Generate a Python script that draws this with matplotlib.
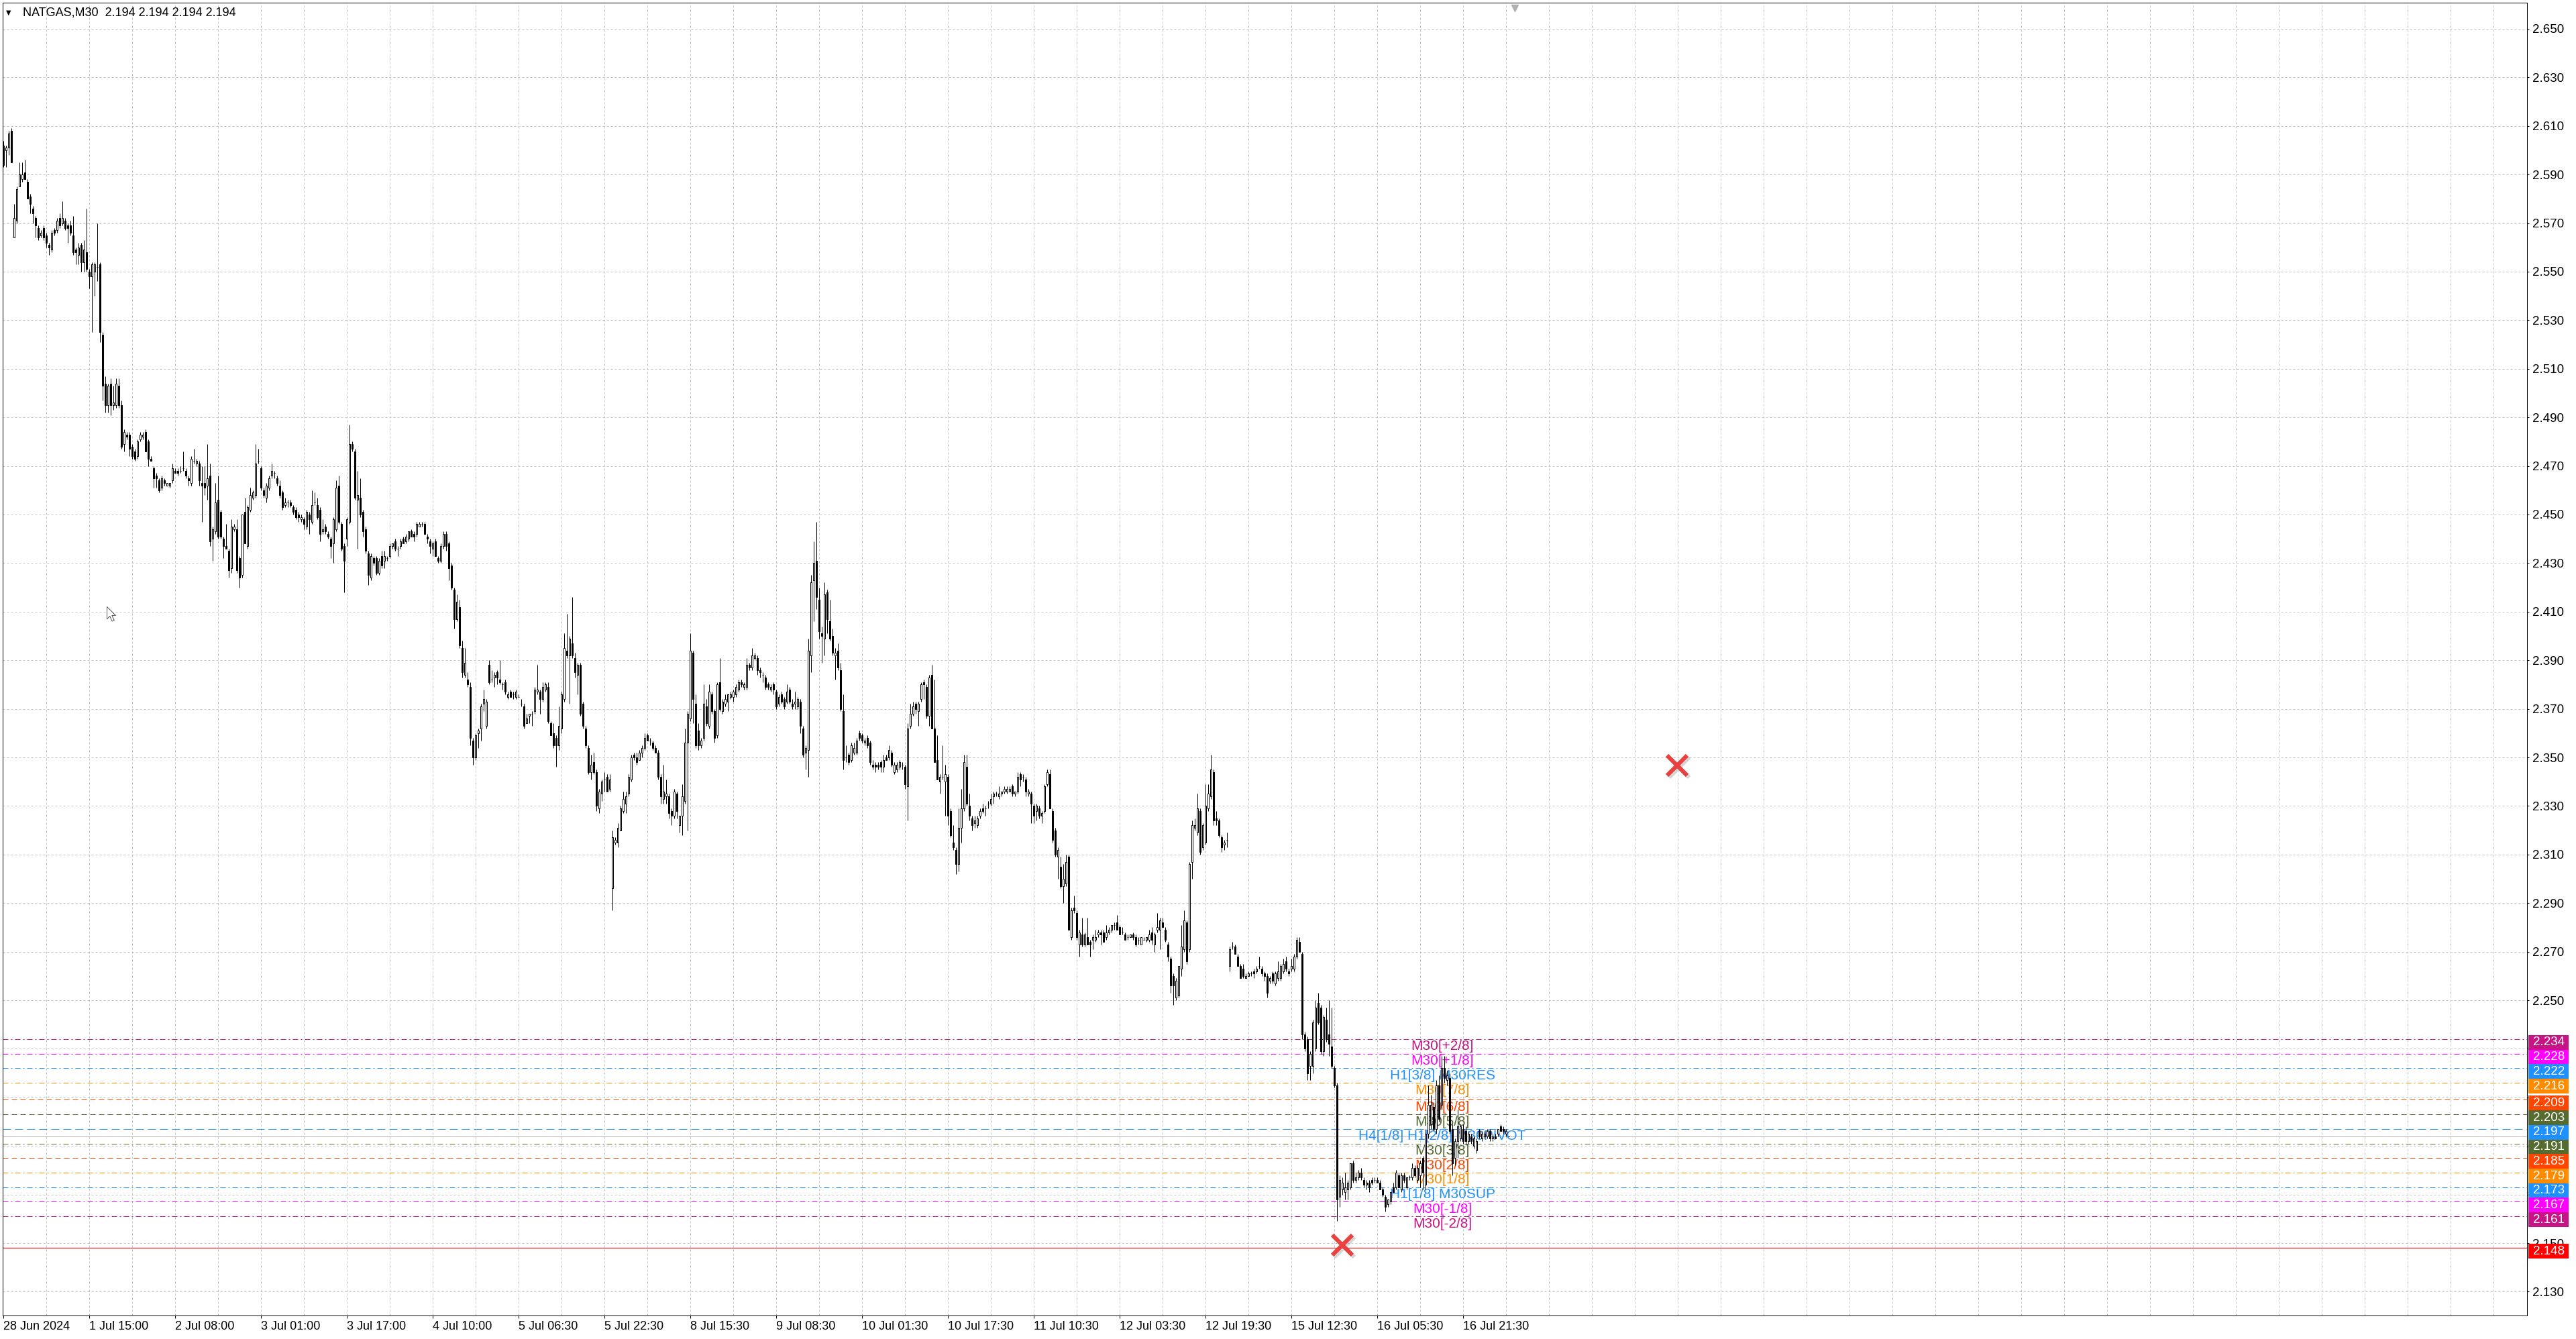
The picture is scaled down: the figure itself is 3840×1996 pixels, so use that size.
import numpy as np
import matplotlib
matplotlib.use("Agg")
import matplotlib.pyplot as plt
import matplotlib.transforms as mtransforms
from matplotlib.patches import Rectangle
from matplotlib.path import Path

plt.rcParams['font.family'] = ['Liberation Sans', 'DejaVu Sans']

# header of the chart
symbol = "NATGAS,M30"
last_quote = [2.194, 2.194, 2.194, 2.194]

# M30 bars, prices in thousandths
opens = [
    2602,2600,2601,2608,2564,2571,2585,2588,2591,2587,2581,2576,2572,2568,2565,2568,2565,2561,2559,2567,
    2567,2572,2570,2571,2569,2569,2565,2559,2557,2561,2554,2558,2550,2548,2550,2552,2553,2524,2504,2495,
    2504,2495,2495,2503,2495,2479,2483,2483,2478,2476,2474,2481,2482,2484,2480,2473,2469,2466,2464,2461,
    2464,2462,2462,2464,2468,2468,2468,2469,2468,2465,2463,2472,2471,2471,2463,2463,2462,2466,2440,2443,
    2456,2451,2440,2437,2435,2428,2444,2444,2432,2425,2451,2437,2452,2457,2458,2472,2469,2460,2457,2461,
    2466,2467,2465,2462,2459,2454,2455,2455,2453,2452,2450,2448,2448,2445,2450,2447,2455,2454,2452,2443,
    2445,2442,2440,2438,2444,2462,2446,2437,2440,2447,2479,2476,2456,2457,2451,2444,2434,2424,2432,2432,
    2426,2433,2431,2432,2433,2437,2439,2436,2437,2440,2439,2440,2443,2442,2442,2445,2446,2446,2441,2439,
    2436,2439,2432,2431,2437,2442,2438,2429,2419,2407,2412,2395,2384,2382,2379,2357,2350,2360,2362,2372,
    2363,2388,2382,2383,2385,2382,2380,2381,2375,2377,2376,2375,2375,2372,2371,2364,2367,2368,2369,2377,
    2377,2374,2378,2379,2364,2360,2358,2355,2362,2374,2394,2392,2397,2391,2384,2388,2372,2362,2354,2344,
    2348,2344,2329,2335,2341,2342,2337,2296,2315,2315,2320,2328,2331,2335,2341,2351,2350,2349,2352,2354,
    2359,2357,2356,2354,2352,2342,2333,2334,2334,2328,2326,2335,2322,2326,2332,2356,2366,2393,2372,2361,
    2355,2358,2371,2363,2376,2369,2359,2381,2369,2372,2373,2375,2375,2376,2378,2381,2379,2379,2388,2387,
    2391,2391,2386,2384,2383,2380,2378,2380,2377,2372,2376,2374,2373,2378,2372,2372,2371,2373,2362,2352,
    2353,2392,2423,2431,2415,2401,2399,2418,2406,2400,2392,2394,2386,2369,2350,2351,2349,2352,2352,2360,
    2359,2356,2358,2356,2347,2347,2347,2348,2346,2350,2350,2352,2344,2345,2346,2347,2346,2338,2363,2368,
    2372,2369,2374,2381,2379,2367,2384,2362,2349,2340,2342,2340,2342,2328,2315,2312,2306,2321,2329,2346,
    2330,2325,2323,2322,2326,2329,2329,2331,2331,2334,2335,2334,2335,2336,2336,2336,2338,2335,2336,2343,
    2342,2341,2335,2335,2330,2328,2329,2326,2328,2339,2343,2328,2320,2309,2305,2297,2298,2309,2276,2288,
    2286,2273,2277,2273,2276,2274,2275,2275,2277,2278,2278,2276,2278,2279,2281,2282,2280,2278,2277,2276,
    2276,2277,2276,2275,2273,2275,2275,2275,2278,2273,2279,2279,2282,2279,2273,2267,2260,2251,2252,2263,
    2271,2282,2271,2307,2321,2319,2328,2313,2315,2329,2334,2344,2325,2324,2317,2314,2316,2264,2272,2272,
    2268,2264,2263,2259,2260,2261,2262,2262,2264,2263,2261,2260,2258,2261,2257,2259,2259,2262,2266,2262,
    2263,2263,2268,2274,2269,2236,2234,2223,2223,2230,2249,2247,2229,2242,2236,2231,2222,2215,2169,2172,
    2171,2172,2173,2183,2176,2177,2179,2176,2174,2175,2176,2176,2176,2175,2172,2169,2166,2167,2173,2173,
    2178,2172,2178,2173,2177,2177,2181,2176,2178,2185,2174,2195,2199,2206,2197,2215,2207,2222,2217,2218,
    2197,2185,2192,2193,2197,2196,2192,2194,2190,2188,2196,2193,2194,2194,2196,2193,2194,2195,2198,2197,
    2195,2194]
highs = [
    2604,2602,2608,2609,2578,2585,2595,2595,2596,2588,2582,2577,2573,2569,2567,2569,2566,2562,2567,2568,
    2572,2574,2579,2572,2570,2571,2573,2560,2562,2562,2563,2576,2551,2554,2554,2570,2554,2525,2507,2504,
    2506,2503,2506,2506,2497,2485,2484,2484,2479,2477,2481,2484,2484,2485,2481,2474,2470,2467,2465,2466,
    2465,2463,2463,2471,2469,2469,2470,2476,2469,2466,2474,2477,2473,2472,2470,2470,2479,2471,2445,2463,
    2466,2452,2441,2446,2436,2448,2446,2448,2433,2450,2457,2454,2461,2460,2479,2477,2470,2461,2463,2466,
    2471,2468,2466,2464,2460,2457,2456,2456,2454,2453,2451,2450,2449,2452,2451,2460,2459,2457,2453,2448,
    2446,2443,2441,2449,2464,2466,2447,2438,2449,2487,2480,2477,2468,2465,2452,2445,2435,2434,2433,2433,
    2432,2435,2435,2433,2438,2438,2440,2437,2440,2441,2442,2443,2444,2443,2447,2447,2447,2447,2442,2440,
    2439,2440,2433,2438,2443,2443,2439,2430,2420,2417,2415,2398,2395,2385,2381,2358,2360,2362,2372,2378,
    2374,2390,2386,2385,2386,2390,2381,2382,2377,2378,2377,2378,2376,2374,2372,2368,2368,2369,2379,2388,
    2378,2381,2381,2381,2365,2364,2359,2371,2377,2401,2409,2400,2416,2393,2389,2389,2373,2363,2355,2351,
    2352,2345,2337,2341,2344,2343,2343,2320,2317,2323,2330,2336,2336,2343,2351,2352,2352,2353,2355,2360,
    2360,2358,2357,2355,2353,2343,2347,2341,2335,2329,2337,2336,2326,2339,2362,2369,2401,2394,2376,2364,
    2358,2380,2374,2380,2377,2370,2381,2391,2374,2376,2376,2377,2378,2380,2382,2382,2381,2391,2389,2395,
    2393,2392,2387,2385,2384,2381,2380,2381,2378,2376,2377,2375,2380,2379,2374,2377,2375,2374,2363,2355,
    2399,2425,2439,2447,2420,2404,2422,2419,2415,2403,2395,2397,2389,2376,2355,2352,2356,2356,2358,2361,
    2360,2358,2359,2357,2349,2348,2348,2349,2351,2351,2355,2353,2348,2348,2349,2348,2347,2364,2372,2373,
    2373,2373,2381,2382,2380,2384,2388,2382,2359,2343,2355,2347,2343,2329,2322,2313,2329,2337,2351,2351,
    2335,2326,2326,2326,2329,2331,2330,2332,2335,2336,2336,2338,2336,2338,2338,2338,2339,2336,2344,2344,
    2343,2342,2337,2336,2331,2331,2330,2328,2339,2345,2345,2329,2321,2313,2309,2306,2310,2310,2288,2293,
    2287,2279,2284,2278,2284,2275,2277,2279,2279,2279,2279,2281,2280,2281,2282,2285,2281,2280,2278,2277,
    2277,2278,2277,2276,2276,2276,2276,2279,2280,2278,2286,2284,2284,2280,2274,2268,2261,2259,2264,2281,
    2287,2283,2307,2324,2325,2335,2329,2323,2339,2339,2351,2345,2328,2325,2318,2316,2319,2272,2274,2273,
    2269,2265,2265,2261,2262,2262,2263,2264,2268,2264,2262,2261,2260,2262,2262,2266,2265,2267,2268,2263,
    2267,2269,2276,2276,2270,2237,2235,2229,2242,2250,2253,2248,2244,2247,2250,2247,2223,2216,2178,2177,
    2179,2176,2183,2184,2179,2180,2181,2177,2176,2176,2177,2177,2177,2176,2173,2170,2168,2171,2175,2180,
    2179,2179,2179,2177,2178,2183,2182,2182,2184,2186,2197,2215,2211,2208,2217,2219,2227,2227,2221,2220,
    2199,2193,2205,2199,2199,2198,2196,2195,2194,2193,2197,2196,2196,2197,2197,2195,2195,2197,2199,2198,
    2197,2194]
lows = [
    2593,2593,2598,2595,2564,2570,2585,2587,2588,2580,2574,2570,2564,2563,2564,2563,2560,2557,2558,2565,
    2566,2568,2569,2567,2562,2565,2557,2553,2553,2550,2550,2550,2543,2525,2540,2546,2521,2497,2492,2492,
    2491,2493,2494,2494,2477,2476,2481,2474,2473,2472,2473,2480,2481,2476,2470,2472,2461,2461,2459,2460,
    2462,2462,2461,2463,2467,2466,2467,2468,2465,2462,2462,2471,2470,2462,2447,2458,2456,2437,2431,2442,
    2440,2440,2432,2436,2424,2426,2443,2426,2420,2424,2438,2436,2451,2456,2457,2471,2460,2457,2455,2460,
    2465,2465,2462,2457,2452,2453,2453,2453,2450,2448,2447,2447,2444,2444,2442,2446,2454,2448,2439,2442,
    2442,2440,2432,2430,2443,2446,2435,2418,2437,2446,2476,2456,2436,2449,2441,2434,2421,2423,2429,2425,
    2425,2428,2428,2431,2432,2436,2435,2433,2436,2438,2438,2439,2441,2439,2441,2445,2445,2442,2438,2434,
    2433,2433,2430,2430,2436,2435,2423,2419,2403,2406,2395,2383,2383,2379,2355,2347,2349,2354,2357,2369,
    2362,2380,2381,2379,2380,2380,2378,2376,2374,2375,2374,2374,2375,2371,2362,2364,2364,2363,2368,2376,
    2368,2373,2377,2364,2359,2354,2346,2353,2360,2373,2391,2372,2391,2383,2376,2367,2362,2354,2343,2341,
    2343,2328,2327,2332,2336,2336,2336,2287,2314,2313,2320,2327,2327,2334,2340,2349,2347,2349,2350,2353,
    2357,2355,2353,2352,2341,2331,2331,2331,2325,2322,2325,2325,2319,2318,2331,2320,2365,2364,2354,2353,
    2354,2357,2363,2362,2368,2356,2358,2369,2368,2371,2369,2374,2373,2375,2377,2379,2378,2378,2386,2386,
    2390,2384,2383,2381,2378,2378,2377,2376,2370,2371,2372,2370,2372,2372,2370,2370,2370,2360,2350,2345,
    2342,2385,2406,2411,2399,2389,2392,2401,2398,2392,2382,2386,2369,2345,2348,2347,2348,2351,2351,2357,
    2356,2355,2354,2347,2345,2344,2345,2344,2344,2349,2349,2346,2343,2344,2345,2345,2337,2324,2362,2367,
    2368,2363,2373,2374,2366,2363,2362,2348,2341,2335,2341,2326,2322,2317,2312,2302,2303,2315,2328,2330,
    2324,2320,2321,2321,2325,2327,2326,2329,2330,2331,2334,2333,2334,2335,2335,2336,2334,2334,2335,2338,
    2340,2334,2334,2323,2323,2324,2325,2323,2327,2338,2329,2315,2309,2300,2296,2290,2297,2279,2275,2286,
    2275,2268,2272,2272,2273,2268,2271,2274,2276,2273,2274,2275,2277,2278,2279,2279,2277,2277,2275,2275,
    2276,2275,2272,2273,2273,2275,2274,2274,2273,2270,2278,2271,2280,2274,2266,2253,2248,2250,2251,2260,
    2270,2265,2270,2300,2320,2318,2310,2312,2314,2328,2333,2322,2322,2317,2311,2312,2313,2262,2271,2269,
    2264,2259,2259,2259,2260,2260,2259,2261,2263,2260,2258,2251,2257,2257,2256,2258,2258,2261,2262,2260,
    2262,2262,2267,2270,2234,2229,2217,2217,2220,2229,2240,2228,2227,2233,2227,2222,2214,2159,2165,2170,
    2168,2168,2172,2175,2175,2176,2176,2173,2172,2171,2174,2175,2175,2172,2169,2163,2165,2166,2171,2172,
    2173,2171,2175,2172,2176,2176,2177,2175,2173,2172,2172,2193,2197,2196,2195,2200,2205,2216,2215,2195,
    2178,2182,2185,2192,2191,2191,2191,2191,2189,2187,2193,2192,2193,2193,2192,2192,2193,2194,2196,2195,
    2194,2194]
closes = [
    2594,2601,2607,2595,2572,2584,2590,2590,2588,2580,2578,2574,2569,2564,2566,2564,2562,2560,2566,2566,
    2571,2569,2572,2568,2568,2566,2558,2558,2560,2554,2559,2551,2548,2553,2553,2552,2525,2503,2495,2503,
    2495,2496,2504,2495,2478,2484,2482,2477,2474,2473,2480,2483,2483,2476,2473,2472,2465,2465,2460,2465,
    2463,2463,2463,2469,2467,2467,2468,2469,2466,2464,2473,2472,2472,2464,2462,2461,2465,2439,2444,2455,
    2441,2441,2437,2436,2427,2445,2445,2427,2424,2450,2438,2453,2458,2459,2471,2472,2461,2458,2462,2465,
    2468,2467,2463,2458,2453,2455,2455,2454,2451,2449,2449,2449,2446,2451,2448,2454,2455,2449,2442,2444,
    2443,2441,2437,2448,2461,2447,2436,2431,2448,2479,2477,2457,2458,2450,2443,2435,2425,2433,2430,2426,
    2431,2429,2433,2432,2437,2438,2436,2436,2439,2438,2441,2443,2441,2441,2446,2446,2446,2442,2440,2437,
    2438,2433,2431,2437,2442,2437,2428,2420,2407,2414,2396,2385,2389,2380,2358,2350,2359,2361,2371,2374,
    2373,2381,2382,2384,2383,2381,2380,2377,2376,2375,2376,2377,2375,2372,2363,2366,2368,2368,2378,2378,
    2374,2379,2380,2365,2359,2355,2355,2363,2376,2395,2392,2399,2392,2385,2388,2368,2363,2355,2344,2347,
    2344,2330,2336,2340,2341,2336,2341,2317,2316,2321,2329,2333,2334,2342,2350,2350,2348,2352,2354,2358,
    2357,2357,2354,2352,2342,2334,2336,2335,2327,2326,2336,2328,2326,2334,2356,2368,2394,2374,2355,2355,
    2357,2372,2364,2377,2369,2358,2380,2370,2373,2374,2376,2376,2377,2379,2381,2380,2380,2388,2387,2392,
    2392,2386,2385,2384,2379,2379,2379,2378,2371,2375,2373,2371,2377,2373,2371,2373,2374,2363,2351,2354,
    2394,2422,2430,2416,2402,2400,2417,2407,2399,2393,2393,2387,2370,2349,2350,2348,2355,2354,2357,2358,
    2357,2357,2355,2348,2346,2346,2346,2346,2349,2349,2353,2347,2347,2347,2348,2347,2339,2362,2368,2371,
    2370,2372,2380,2380,2367,2383,2362,2348,2341,2342,2342,2343,2326,2318,2313,2306,2321,2329,2348,2331,
    2326,2322,2324,2325,2328,2328,2329,2331,2333,2335,2335,2335,2336,2337,2337,2337,2335,2336,2342,2341,
    2342,2336,2336,2331,2326,2330,2326,2327,2338,2344,2329,2316,2310,2312,2297,2300,2307,2279,2287,2287,
    2276,2278,2273,2277,2273,2273,2276,2276,2278,2277,2274,2278,2279,2281,2281,2279,2277,2278,2275,2276,
    2277,2276,2273,2275,2276,2275,2276,2277,2275,2277,2280,2283,2280,2275,2268,2256,2256,2258,2264,2272,
    2283,2266,2306,2322,2322,2329,2311,2322,2330,2335,2345,2324,2324,2318,2313,2315,2316,2271,2272,2269,
    2264,2259,2260,2260,2261,2261,2261,2263,2264,2261,2260,2253,2259,2258,2261,2262,2264,2265,2263,2261,
    2264,2268,2275,2270,2236,2230,2220,2228,2241,2247,2241,2229,2243,2234,2232,2223,2215,2168,2176,2175,
    2173,2175,2183,2176,2177,2179,2177,2174,2175,2173,2175,2176,2175,2172,2170,2165,2168,2171,2171,2179,
    2173,2178,2176,2177,2177,2181,2178,2181,2183,2179,2195,2207,2207,2197,2215,2201,2222,2218,2219,2196,
    2183,2192,2198,2198,2192,2192,2195,2192,2193,2192,2194,2195,2195,2196,2193,2194,2193,2197,2196,2196,
    2196,2194]

# time axis labels, one every 32 bars
time_labels = ["28 Jun 2024", "1 Jul 15:00", "2 Jul 08:00", "3 Jul 01:00", "3 Jul 17:00",
               "4 Jul 10:00", "5 Jul 06:30", "5 Jul 22:30", "8 Jul 15:30", "9 Jul 08:30",
               "10 Jul 01:30", "10 Jul 17:30", "11 Jul 10:30", "12 Jul 03:30", "12 Jul 19:30",
               "15 Jul 12:30", "16 Jul 05:30", "16 Jul 21:30"]
bars_per_label = 32
bars_per_grid = 16

price_ticks = [2.130, 2.150, 2.170, 2.190, 2.210, 2.230, 2.250, 2.270, 2.290, 2.310,
               2.330, 2.350, 2.370, 2.390, 2.410, 2.430, 2.450, 2.470, 2.490, 2.510,
               2.530, 2.550, 2.570, 2.590, 2.610, 2.630, 2.650]
# scale labels that sit fully under the coloured price boxes
hidden_ticks = [2.170, 2.190, 2.210, 2.230]

# murrey math levels
level_prices = [2.234, 2.228, 2.222, 2.216, 2.209, 2.203, 2.197, 2.191, 2.185, 2.179, 2.173, 2.167, 2.161]
level_names = ["M30[+2/8]", "M30[+1/8]", "H1[3/8] M30RES", "M30[7/8]", "M30[6/8]", "M30[5/8]",
               "H4[1/8] H1[2/8] M30PIVOT", "M30[3/8]", "M30[2/8]", "M30[1/8]", "H1[1/8] M30SUP",
               "M30[-1/8]", "M30[-2/8]"]
level_colors = ["#C71585", "#FF00FF", "#1E90FF", "#FF8C00", "#FF4500", "#556B2F", "#1E90FF",
                "#556B2F", "#FF4500", "#FF8C00", "#1E90FF", "#FF00FF", "#C71585"]
level_kind = ["dd", "dd", "dd", "dd", "da", "da", "pv", "dd", "da", "dd", "dd", "dd", "dd"]
label_bar = 536.25

bid_price = 2.194
red_line_price = 2.148

# red cross objects
cross_bars = [499, 623.75]
cross_prices = [2.1492, 2.3467]

cursor_bar, cursor_price = 38.5, 2.4122
shift_bar = 563.25

# ---- layout (pixels of a 3840x1996 canvas) ----
W, H = 3840, 1996
PX = 0.72  # one pixel in points at dpi 100
fig = plt.figure(figsize=(W / 100, H / 100), dpi=100)
fig.patch.set_facecolor("white")
ax = fig.add_axes([4 / W, 1 - 1961 / H, 3763 / W, 1957 / H])
ax.set_facecolor("white")

o = np.array(opens) / 1000
h = np.array(highs) / 1000
l = np.array(lows) / 1000
c = np.array(closes) / 1000
assert len(o) == len(h) == len(l) == len(c), (len(o), len(h), len(l), len(c))
idx = np.arange(len(o))

x_left, x_right = -0.25, 940.5
y_bot, y_top = 2.12017, 2.66077

# grid
grid_col = "#c4c4c4"
vx = np.arange(bars_per_grid, x_right, bars_per_grid)
ax.vlines(vx, y_bot, y_top, colors=grid_col, lw=PX, linestyles=(0, (3, 3)), zorder=1)
ax.hlines(price_ticks, x_left, x_right, colors=grid_col, lw=PX, linestyles=(0, (3, 3)), zorder=1)

# levels
dash_map = {"dd": (8, 4, 2, 4), "da": (8, 5), "pv": (12, 6)}
for p, col, k in zip(level_prices, level_colors, level_kind):
    ax.axhline(p, color=col, lw=PX, dashes=dash_map[k], zorder=2)
for p, name, col in zip(level_prices, level_names, level_colors):
    ax.text(label_bar, p - 0.0004, name, color=col, fontsize=15, ha="center", va="top", zorder=2.5)

ax.axhline(bid_price, color="#c0c0c0", lw=PX, zorder=2)
ax.axhline(red_line_price, color="#d42a2a", lw=PX * 1.3, zorder=2)

# candles
up = c >= o
ax.vlines(idx, l, h, colors="black", lw=PX, zorder=3)
ax.bar(idx[up], (c - o)[up], bottom=o[up], width=0.5, facecolor="white",
       edgecolor="black", linewidth=PX, zorder=4)
ax.bar(idx[~up], (c - o)[~up], bottom=o[~up], width=0.5, facecolor="black",
       edgecolor="black", linewidth=PX, zorder=4)

# red crosses with a soft shadow
shadow = mtransforms.offset_copy(ax.transData, fig=fig, x=3, y=-3, units="dots")
ax.plot(cross_bars, cross_prices, "x", ms=21, mew=4.4, color="#888888", alpha=0.35,
        transform=shadow, zorder=7)
ax.plot(cross_bars, cross_prices, "x", ms=21, mew=4.4, color="#e8413f", zorder=8)

# mouse pointer
cur = Path([(0, 0), (0, -17), (4, -13), (7, -20), (10, -19), (7, -12), (12, -12), (0, 0)],
           [Path.MOVETO] + [Path.LINETO] * 6 + [Path.CLOSEPOLY])
ax.plot([cursor_bar], [cursor_price], marker=cur, ms=31, mfc="white", mec="#555555", mew=PX, zorder=9)

ax.set_xlim(x_left, x_right)
ax.set_ylim(y_bot, y_top)

# chart shift marker at the top border
top_tr = mtransforms.blended_transform_factory(ax.transData, ax.transAxes)
ax.plot([shift_bar], [0.996], marker="v", ms=7, color="#b0b0b0", transform=top_tr,
        clip_on=False, zorder=9)

# axes styling
for s in ax.spines.values():
    s.set_color("black")
    s.set_linewidth(PX)
ax.yaxis.tick_right()
ax.set_yticks(price_ticks)
ax.set_yticklabels(["" if t in hidden_ticks else f"{t:.3f}" for t in price_ticks])
ax.tick_params(axis="y", direction="out", length=3 * PX, width=PX, pad=5 * PX,
               labelsize=13.5, colors="black")
xt = [i * bars_per_label for i in range(len(time_labels))]
ax.set_xticks(xt)
ax.set_xticklabels(time_labels)
for lbl in ax.get_xticklabels():
    lbl.set_horizontalalignment("left")
ax.tick_params(axis="x", direction="out", length=4 * PX, width=PX, pad=4 * PX,
               labelsize=13, colors="black")

# price boxes on the right scale (drawn a few pixels below their price, as in the terminal)
box_tr = mtransforms.blended_transform_factory(ax.transAxes, ax.transData)
box_h = 22 / 3620
box_shift = 5 / 3620
box_prices = level_prices + [red_line_price]
box_colors = level_colors + ["#ff0000"]
for p, col in zip(box_prices, box_colors):
    ax.add_patch(Rectangle((1.00053, p - box_shift - box_h / 2), 0.01595, box_h, transform=box_tr,
                           facecolor=col, edgecolor="none", clip_on=False, zorder=10))
    ax.text(1.0024, p - box_shift, f"{p:.3f}", transform=box_tr, color="white", fontsize=13.5,
            ha="left", va="center", clip_on=False, zorder=11)

# header
fig.text(9 / W, 1 - 19 / H, "\u25BC", fontsize=7, family="DejaVu Sans", va="center", ha="left")
fig.text(34 / W, 1 - 19 / H, symbol + "  " + " ".join(f"{v:.3f}" for v in last_quote),
         fontsize=13, va="center", ha="left", color="black")

fig.savefig("out.png", dpi=100, facecolor="white")
